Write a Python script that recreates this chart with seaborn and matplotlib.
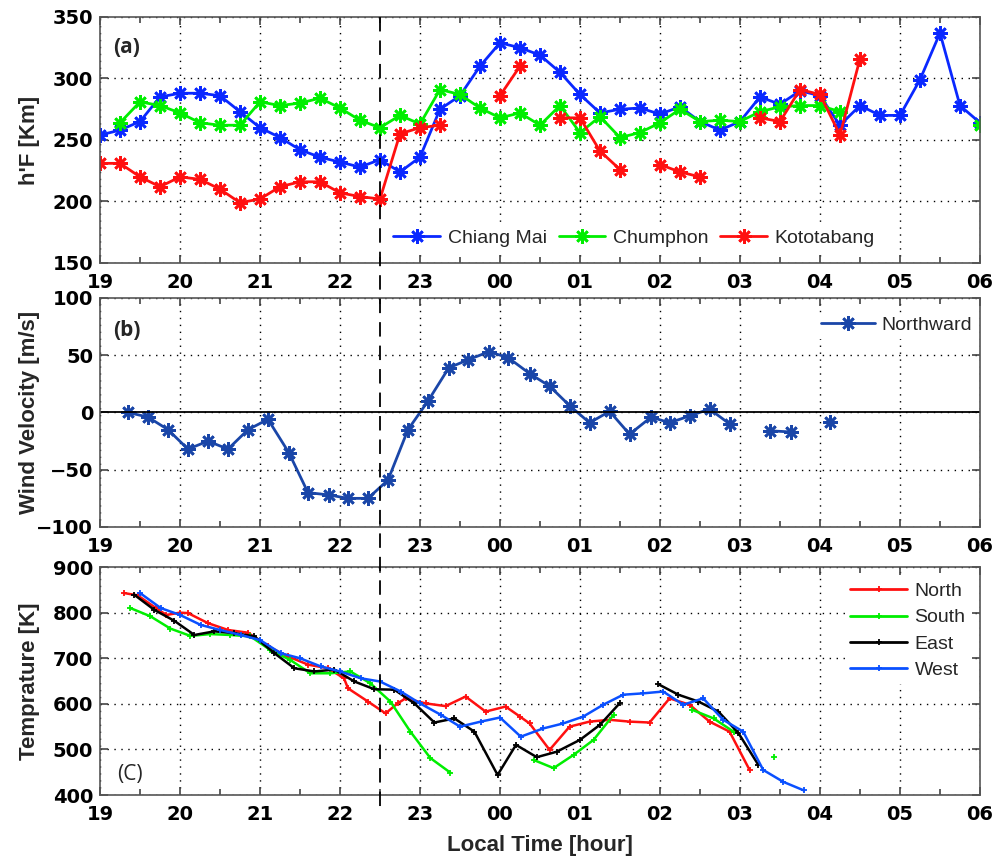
import numpy as np
import pandas as pd
import seaborn as sns
import matplotlib.pyplot as plt
from matplotlib.lines import Line2D
from matplotlib.ticker import FuncFormatter, MultipleLocator

# ---- panel (a): h'F [km], every 15 min from 19:00 (hours past midnight > 24 for next day)
hf_time = [19.0, 19.25, 19.5, 19.75, 20.0, 20.25, 20.5, 20.75, 21.0, 21.25, 21.5, 21.75,
           22.0, 22.25, 22.5, 22.75, 23.0, 23.25, 23.5, 23.75, 24.0, 24.25, 24.5, 24.75,
           25.0, 25.25, 25.5, 25.75, 26.0, 26.25, 26.5, 26.75, 27.0, 27.25, 27.5, 27.75,
           28.0, 28.25, 28.5, 28.75, 29.0, 29.25, 29.5, 29.75, 30.0]
chiang_mai = [254, 258, 265, 285, 288, 288, 286, 273, 260, 252, 242, 236,
              232, 228, 234, 224, 236, 275, 286, 310, 329, 325, 319, 305,
              287, 272, 275, 276, 271, 277, 265, 258, 265, 285, 279, 290,
              286, 262, 278, 270, 270, 299, 337, 278, 264]
chumphon = [np.nan, 264, 281, 278, 272, 264, 262, 262, 281, 278, 280, 284,
            276, 266, 260, 270, 263, 291, 287, 276, 268, 272, 262, 278,
            256, 269, 252, 256, 264, 275, 265, 266, 265, 273, 277, 278,
            278, 273, np.nan, np.nan, np.nan, np.nan, np.nan, np.nan, 262]
kototabang = [231, 231, 220, 212, 220, 218, 210, 199, 202, 212, 216, 216,
              207, 204, 202, 255, 260, 262, np.nan, np.nan, 286, 310, np.nan, 268,
              268, 241, 226, np.nan, 230, 224, 220, np.nan, np.nan, 268, 265, 291,
              287, 254, 316, np.nan, np.nan, np.nan, np.nan, np.nan, np.nan]

# ---- panel (b): meridional wind [m/s]
wind_time = [19.35, 19.6, 19.85, 20.1, 20.35, 20.6, 20.85, 21.1, 21.36, 21.6, 21.86,
             22.1, 22.35, 22.6, 22.85, 23.1, 23.36, 23.6, 23.86, 24.1, 24.37, 24.62,
             24.87, 25.12, 25.37, 25.62, 25.89, 26.12, 26.37, 26.62, 26.87, 27.12,
             27.37, 27.64, 27.88, 28.12]
northward = [0, -4, -15, -32, -25, -32, -15, -6, -35, -70, -72,
             -75, -75, -59, -15, 10, 39, 46, 53, 48, 34, 23,
             6, -9, 1, -19, -4, -9, -3, 3, -10, np.nan,
             -16, -17, np.nan, -8]

# ---- panel (c): neutral temperature [K]
north_t = [19.3, 19.47, 19.7, 19.83, 20.0, 20.1, 20.35, 20.6, 20.85, 21.1, 21.35,
           21.6, 21.85, 22.05, 22.1, 22.35, 22.57, 22.72, 22.82, 23.07, 23.32, 23.57,
           23.82, 24.07, 24.25, 24.37, 24.62, 24.87, 25.12, 25.37, 25.62, 25.87,
           26.12, 26.37, 26.62, 26.87, 27.12]
north_v = [843, 838, 810, 795, 800, 799, 777, 762, 756, 726, 704,
           686, 678, 656, 634, 605, 579, 601, 612, 601, 595, 616,
           583, 594, 572, 557, 499, 550, 561, 565, 561, 559,
           612, 598, 561, 539, 455]
south_t = [19.38, 19.63, 19.88, 20.13, 20.38, 20.63, 20.88, 21.13, 21.38, 21.63, 21.88,
           22.13, 22.38, 22.63, 22.88, 23.13, 23.38, 24.0, 24.42, 24.67, 24.92, 25.17,
           25.42, 26.0, 26.4, 26.67, 26.92, 27.2, 27.42]
south_v = [810, 792, 765, 749, 753, 751, 748, 718, 696, 667, 667,
           671, 645, 605, 539, 481, 449, np.nan, 477, 459, 488, 521,
           576, np.nan, 587, 568, 539, np.nan, 483]
east_t = [19.43, 19.68, 19.93, 20.18, 20.43, 20.68, 20.93, 21.18, 21.43, 21.68, 21.93,
          22.18, 22.43, 22.68, 22.93, 23.18, 23.43, 23.68, 23.97, 24.2, 24.46, 24.71,
          25.0, 25.25, 25.5, 25.75, 25.98, 26.23, 26.48, 26.73, 26.98, 27.23]
east_v = [839, 806, 782, 751, 759, 755, 748, 711, 678, 671, 675,
          649, 632, 631, 601, 559, 568, 539, 444, 510, 483, 495,
          521, 554, 602, np.nan, 643, 620, 605, 583, 536, 466]
west_t = [19.5, 19.76, 20.0, 20.26, 20.5, 20.76, 21.0, 21.26, 21.5, 21.76, 22.0,
          22.26, 22.5, 22.76, 23.0, 23.26, 23.5, 23.76, 24.0, 24.26, 24.54, 24.79,
          25.04, 25.29, 25.54, 25.79, 26.04, 26.29, 26.54, 26.79, 27.04, 27.29,
          27.54, 27.8]
west_v = [843, 810, 795, 773, 762, 751, 740, 711, 700, 682, 671,
          656, 649, 627, 601, 576, 550, 561, 570, 528, 546, 557,
          572, 598, 620, 623, 627, 598, 612, 565, 539, 455,
          429, 410]

DASH_TIME = 22.5

sns.set_theme(style="ticks")
plt.rcParams.update({
    'font.family': ['Liberation Sans', 'DejaVu Sans'],
    'axes.edgecolor': '#555555',
    'axes.linewidth': 1.2,
    'xtick.direction': 'in',
    'ytick.direction': 'in',
    'xtick.top': True,
    'ytick.right': True,
    'xtick.color': '#444444',
    'ytick.color': '#444444',
    'xtick.labelcolor': 'black',
    'ytick.labelcolor': 'black',
})


def to_segments(t, v):
    """Long table with a segment id so NaN gaps break the line."""
    df = pd.DataFrame({'t': t, 'v': v})
    df['seg'] = df['v'].isna().cumsum()
    return df.dropna()


def draw(ax, t, v, color, marker, ms, mew, lw):
    df = to_segments(t, v)
    sns.lineplot(data=df, x='t', y='v', units='seg', estimator=None, sort=False,
                 color=color, marker=marker, markersize=ms, markeredgewidth=mew,
                 markeredgecolor=color, linewidth=lw, ax=ax, legend=False)


def style_axis(ax, ylim, ystep):
    ax.set_xlim(19, 30)
    ax.set_ylim(*ylim)
    ax.xaxis.set_major_locator(MultipleLocator(1))
    ax.xaxis.set_minor_locator(MultipleLocator(0.5))
    ax.yaxis.set_major_locator(MultipleLocator(ystep))
    ax.xaxis.set_major_formatter(FuncFormatter(lambda x, p: f"{int(round(x)) % 24:02d}"))
    ax.tick_params(which='major', length=6, width=1.2, labelsize=14)
    ax.tick_params(axis='x', which='major', pad=7)
    ax.tick_params(axis='y', which='major', pad=5)
    ax.tick_params(which='minor', length=4, width=1.2)
    for lab in ax.get_xticklabels() + ax.get_yticklabels():
        lab.set_fontweight('bold')
        lab.set_family('DejaVu Sans')
    ax.grid(True, which='major', linestyle=(0, (1, 4)), color='black', linewidth=1.0)
    ax.set_xlabel('')
    ax.set_ylabel('')


fig = plt.figure(figsize=(10.08, 8.58), dpi=100)
ax_a = fig.add_axes([0.0992, 0.6935, 0.873, 0.2867])
ax_b = fig.add_axes([0.0992, 0.3858, 0.873, 0.2669])
ax_c = fig.add_axes([0.0992, 0.0734, 0.873, 0.2657])

star = (8, 2, 0)
MS, MEW = 10.5, 1.9

# (a)
draw(ax_a, hf_time, chiang_mai, '#0a28ff', star, MS, MEW, 2.0)
draw(ax_a, hf_time, chumphon, '#00ee00', star, MS, MEW, 2.0)
draw(ax_a, hf_time, kototabang, '#ff1010', star, MS, MEW, 2.0)
style_axis(ax_a, (150, 350), 50)
ax_a.set_ylabel("h'F [Km]", fontsize=16, fontweight='bold')
ax_a.text(0.015, 0.875, '(a)', transform=ax_a.transAxes, fontsize=15,
          fontweight='bold', va='center', family='Open Sans')
handles_a = [Line2D([], [], color=c, lw=2, marker=star, ms=MS, mew=MEW)
             for c in ['#0a28ff', '#00ee00', '#ff1010']]
leg = ax_a.legend(handles_a, ['Chiang Mai', 'Chumphon', 'Kototabang'], ncol=3,
                  loc='center right', bbox_to_anchor=(0.885, 0.1), fontsize=14,
                  frameon=True, fancybox=False, handlelength=2.4, columnspacing=0.6,
                  handletextpad=0.4, borderpad=0.2, borderaxespad=0)
leg.get_frame().set_edgecolor('white')
leg.get_frame().set_alpha(1)

# (b)
draw(ax_b, wind_time, northward, '#1a46a8', star, MS, MEW, 2.0)
ax_b.axhline(0, color='black', linewidth=1.3)
style_axis(ax_b, (-100, 100), 50)
ax_b.set_ylabel('Wind Velocity [m/s]', fontsize=16, fontweight='bold')
ax_b.text(0.015, 0.86, '(b)', transform=ax_b.transAxes, fontsize=15,
          fontweight='bold', va='center', family='Open Sans')
leg = ax_b.legend([Line2D([], [], color='#1a46a8', lw=2, marker=star, ms=MS, mew=MEW)],
                  ['Northward'], loc='center right', bbox_to_anchor=(0.995, 0.88),
                  fontsize=14, frameon=True, fancybox=False, handlelength=2.8,
                  handletextpad=0.3, borderpad=0.2, borderaxespad=0)
leg.get_frame().set_edgecolor('white')
leg.get_frame().set_alpha(1)

# (c)
temp_series = [('North', north_t, north_v, '#ff1010'),
               ('South', south_t, south_v, '#00ee00'),
               ('East', east_t, east_v, 'black'),
               ('West', west_t, west_v, '#0a50ff')]
for name, t, v, c in temp_series:
    draw(ax_c, t, v, c, '+', 5, 1.3, 1.8)
style_axis(ax_c, (400, 900), 100)
ax_c.set_ylabel('Temprature [K]', fontsize=16, fontweight='bold')
ax_c.set_xlabel('Local Time [hour]', fontsize=16, fontweight='bold', labelpad=8)
ax_c.text(0.02, 0.088, '(C)', transform=ax_c.transAxes, fontsize=15,
          va='center', family='Open Sans')
handles_c = [Line2D([], [], color=c, lw=2, marker='+', ms=5, mew=1.3)
             for _, _, _, c in temp_series]
leg = ax_c.legend(handles_c, [s[0] for s in temp_series], loc='upper right',
                  bbox_to_anchor=(0.988, 0.95), fontsize=14, frameon=True,
                  fancybox=False, handlelength=2.9, handletextpad=0.4,
                  labelspacing=0.45, borderpad=0.2, borderaxespad=0)
leg.get_frame().set_edgecolor('white')
leg.get_frame().set_alpha(1)

for ax in (ax_a, ax_b, ax_c):
    ax.yaxis.set_label_coords(-0.068, 0.5)

# dashed separator at 22:30 running through all panels
x_fig = fig.transFigure.inverted().transform(ax_a.transData.transform((DASH_TIME, 200)))[0]
fig.add_artist(Line2D([x_fig, x_fig], [1 - 17 / 858, 1 - 812 / 858], color='black',
                      linewidth=1.3, linestyle=(0, (8, 5)), transform=fig.transFigure))

fig.savefig('out.png', dpi=100)
